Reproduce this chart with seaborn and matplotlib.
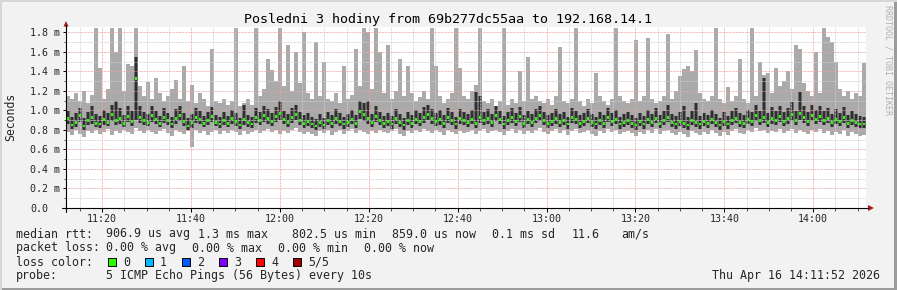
import numpy as np
import pandas as pd
import matplotlib
matplotlib.use("Agg")
import matplotlib.pyplot as plt
import seaborn as sns
from matplotlib.ticker import MultipleLocator, FuncFormatter
from matplotlib.patches import Rectangle, Polygon
from matplotlib.lines import Line2D

# ---------------- data (values in ms) ----------------
title = "Posledni 3 hodiny from 69b277dc55aa to 192.168.14.1"
start_minute = 11 * 60 + 11 + 52 / 60      # 11:11:52
span_minutes = 180
n_steps = 200

rtt_max = [
    1.15, 1.12, 1.18, 1.10, 1.20, 1.08, 1.16, 1.84, 1.43, 1.12, 1.22, 1.84, 1.60, 1.84, 1.20, 1.48, 1.45, 1.84, 1.25, 1.15,
    1.29, 1.12, 1.33, 1.18, 1.10, 1.15, 1.22, 1.31, 1.12, 1.46, 1.10, 1.26, 1.08, 1.18, 1.12, 1.05, 1.63, 1.10, 1.08, 1.12,
    1.06, 1.10, 1.84, 1.05, 1.08, 1.12, 1.06, 1.84, 1.15, 1.22, 1.53, 1.41, 1.30, 1.84, 1.25, 1.67, 1.20, 1.60, 1.28, 1.80,
    1.18, 1.12, 1.70, 1.15, 1.50, 1.12, 1.10, 1.18, 1.08, 1.46, 1.12, 1.16, 1.63, 1.25, 1.84, 1.80, 1.22, 1.84, 1.60, 1.18,
    1.67, 1.12, 1.20, 1.53, 1.15, 1.46, 1.18, 1.10, 1.14, 1.20, 1.12, 1.84, 1.46, 1.15, 1.08, 1.12, 1.18, 1.84, 1.43, 1.15,
    1.12, 1.20, 1.26, 1.84, 1.10, 1.08, 1.12, 1.05, 1.10, 1.84, 1.06, 1.12, 1.08, 1.40, 1.10, 1.55, 1.12, 1.15, 1.10, 1.08,
    1.12, 1.06, 1.15, 1.65, 1.10, 1.08, 1.12, 1.84, 1.10, 1.05, 1.12, 1.08, 1.38, 1.15, 1.10, 1.06, 1.12, 1.84, 1.15, 1.10,
    1.08, 1.12, 1.72, 1.10, 1.15, 1.74, 1.12, 1.08, 1.10, 1.15, 1.78, 1.12, 1.20, 1.35, 1.42, 1.46, 1.40, 1.62, 1.18, 1.12,
    1.10, 1.15, 1.84, 1.12, 1.08, 1.24, 1.10, 1.15, 1.53, 1.12, 1.08, 1.84, 1.15, 1.50, 1.36, 1.38, 1.18, 1.43, 1.25, 1.30,
    1.40, 1.22, 1.67, 1.63, 1.28, 1.20, 1.15, 1.60, 1.18, 1.84, 1.75, 1.70, 1.50, 1.22, 1.15, 1.20, 1.12, 1.18, 1.15, 1.49,
]

rtt_p4 = [
    0.99, 0.93, 0.97, 1.02, 0.92, 0.98, 1.05, 0.96, 0.94, 1.00, 0.97, 1.06, 1.10, 1.02, 0.95, 1.04, 0.99, 1.55, 1.05, 0.98,
    0.96, 1.04, 0.99, 0.94, 1.02, 0.97, 0.93, 1.01, 1.05, 0.97, 0.92, 0.96, 1.02, 0.99, 0.94, 0.98, 1.03, 0.95, 0.93, 0.98,
    0.94, 1.00, 0.97, 0.92, 1.06, 0.95, 0.93, 1.02, 0.98, 1.04, 1.01, 0.97, 1.03, 1.10, 0.99, 0.96, 1.02, 1.06, 0.98, 0.95,
    0.97, 0.93, 0.91, 0.96, 0.92, 0.98, 0.95, 1.01, 0.97, 0.93, 0.96, 1.00, 0.95, 1.10, 1.08, 1.10, 0.96, 1.05, 0.98, 0.94,
    0.97, 0.94, 1.01, 0.96, 0.92, 0.98, 0.95, 1.00, 0.97, 1.03, 1.06, 1.01, 0.97, 1.00, 0.95, 1.02, 0.98, 0.93, 1.01, 0.98,
    0.96, 1.00, 1.19, 1.15, 0.98, 1.01, 0.96, 1.04, 0.99, 0.94, 0.98, 1.02, 0.97, 1.03, 0.95, 0.99, 0.96, 1.01, 1.05, 0.98,
    0.95, 0.97, 1.01, 0.96, 0.98, 0.93, 1.02, 0.99, 0.95, 0.97, 1.01, 0.96, 0.93, 0.98, 0.95, 1.02, 0.97, 1.00, 0.93, 0.96,
    0.98, 0.95, 0.92, 0.97, 0.94, 1.00, 0.96, 1.02, 0.95, 0.99, 1.06, 0.96, 0.94, 0.98, 1.05, 0.93, 0.99, 1.08, 0.94, 0.97,
    0.95, 1.00, 0.96, 0.92, 0.98, 0.94, 0.99, 1.02, 0.97, 0.95, 1.00, 0.98, 1.06, 0.99, 1.33, 0.97, 1.03, 0.99, 1.05, 0.98,
    1.02, 1.09, 0.99, 1.19, 1.04, 0.98, 1.06, 1.00, 1.05, 0.99, 1.02, 0.96, 1.01, 0.97, 1.03, 0.95, 0.99, 0.96, 0.94, 0.93,
]

rtt_median = [
    0.92, 0.85, 0.88, 0.95, 0.84, 0.90, 0.93, 0.87, 0.86, 0.91, 0.88, 0.96, 0.90, 0.92, 0.87, 0.94, 0.89, 1.33, 0.93, 0.90,
    0.88, 0.95, 0.91, 0.87, 0.93, 0.90, 0.86, 0.92, 0.95, 0.89, 0.84, 0.88, 0.93, 0.91, 0.87, 0.90, 0.94, 0.88, 0.86, 0.90,
    0.87, 0.92, 0.89, 0.85, 0.91, 0.88, 0.86, 0.93, 0.90, 0.95, 0.92, 0.89, 0.94, 0.97, 0.91, 0.88, 0.93, 0.96, 0.90, 0.87,
    0.89, 0.86, 0.84, 0.88, 0.85, 0.90, 0.87, 0.92, 0.89, 0.86, 0.88, 0.91, 0.87, 0.99, 0.96, 0.92, 0.88, 0.94, 0.90, 0.87,
    0.89, 0.86, 0.92, 0.88, 0.85, 0.90, 0.87, 0.91, 0.89, 0.93, 0.96, 0.92, 0.89, 0.91, 0.87, 0.93, 0.90, 0.86, 0.92, 0.90,
    0.88, 0.91, 0.87, 0.93, 0.90, 0.92, 0.88, 0.95, 0.91, 0.86, 0.90, 0.93, 0.89, 0.94, 0.87, 0.91, 0.88, 0.92, 0.95, 0.90,
    0.87, 0.89, 0.92, 0.88, 0.90, 0.86, 0.93, 0.91, 0.87, 0.89, 0.92, 0.88, 0.86, 0.90, 0.87, 0.93, 0.89, 0.91, 0.86, 0.88,
    0.90, 0.87, 0.85, 0.89, 0.86, 0.91, 0.88, 0.92, 0.87, 0.90, 0.93, 0.88, 0.86, 0.89, 0.87, 0.85, 0.90, 0.88, 0.86, 0.89,
    0.87, 0.91, 0.88, 0.85, 0.89, 0.86, 0.90, 0.92, 0.88, 0.87, 0.91, 0.89, 0.95, 0.90, 0.93, 0.88, 0.92, 0.90, 0.94, 0.89,
    0.92, 0.96, 0.90, 0.97, 0.93, 0.89, 0.95, 0.91, 0.94, 0.90, 0.92, 0.88, 0.91, 0.89, 0.93, 0.87, 0.90, 0.88, 0.86, 0.86,
]

rtt_p2 = [
    0.86, 0.81, 0.83, 0.88, 0.80, 0.85, 0.86, 0.83, 0.82, 0.85, 0.84, 0.89, 0.85, 0.86, 0.83, 0.88, 0.84, 0.90, 0.87, 0.85,
    0.84, 0.88, 0.86, 0.83, 0.87, 0.85, 0.82, 0.86, 0.89, 0.84, 0.80, 0.82, 0.87, 0.86, 0.83, 0.85, 0.88, 0.84, 0.82, 0.85,
    0.83, 0.86, 0.84, 0.81, 0.85, 0.83, 0.82, 0.87, 0.85, 0.88, 0.86, 0.84, 0.88, 0.90, 0.86, 0.83, 0.87, 0.90, 0.85, 0.82,
    0.84, 0.82, 0.80, 0.83, 0.81, 0.85, 0.82, 0.86, 0.84, 0.81, 0.83, 0.86, 0.82, 0.91, 0.89, 0.86, 0.83, 0.88, 0.85, 0.82,
    0.84, 0.81, 0.86, 0.83, 0.80, 0.85, 0.82, 0.86, 0.84, 0.87, 0.90, 0.86, 0.84, 0.85, 0.82, 0.87, 0.85, 0.81, 0.86, 0.85,
    0.83, 0.86, 0.82, 0.87, 0.85, 0.86, 0.83, 0.89, 0.86, 0.81, 0.85, 0.87, 0.84, 0.88, 0.82, 0.86, 0.83, 0.87, 0.89, 0.85,
    0.82, 0.84, 0.86, 0.83, 0.85, 0.81, 0.87, 0.86, 0.82, 0.84, 0.87, 0.83, 0.81, 0.85, 0.82, 0.88, 0.84, 0.86, 0.81, 0.83,
    0.85, 0.82, 0.80, 0.84, 0.81, 0.86, 0.83, 0.87, 0.82, 0.85, 0.88, 0.83, 0.81, 0.84, 0.82, 0.80, 0.85, 0.83, 0.81, 0.84,
    0.82, 0.86, 0.83, 0.80, 0.84, 0.81, 0.85, 0.87, 0.83, 0.82, 0.86, 0.84, 0.89, 0.85, 0.87, 0.83, 0.86, 0.85, 0.88, 0.84,
    0.86, 0.89, 0.85, 0.90, 0.87, 0.84, 0.89, 0.86, 0.88, 0.85, 0.87, 0.83, 0.86, 0.84, 0.87, 0.82, 0.85, 0.83, 0.82, 0.82,
]

rtt_min = [
    0.78, 0.75, 0.80, 0.76, 0.73, 0.79, 0.77, 0.80, 0.76, 0.78, 0.81, 0.75, 0.79, 0.77, 0.80, 0.78, 0.76, 0.82, 0.79, 0.77,
    0.80, 0.78, 0.76, 0.79, 0.81, 0.77, 0.74, 0.80, 0.78, 0.76, 0.79, 0.62, 0.80, 0.77, 0.79, 0.75, 0.78, 0.80, 0.76, 0.79,
    0.77, 0.80, 0.78, 0.75, 0.79, 0.76, 0.78, 0.80, 0.77, 0.79, 0.81, 0.78, 0.80, 0.76, 0.79, 0.77, 0.80, 0.82, 0.78, 0.76,
    0.78, 0.76, 0.74, 0.79, 0.77, 0.80, 0.75, 0.78, 0.80, 0.76, 0.79, 0.81, 0.77, 0.80, 0.78, 0.76, 0.79, 0.77, 0.80, 0.78,
    0.77, 0.79, 0.81, 0.76, 0.74, 0.79, 0.77, 0.80, 0.78, 0.81, 0.79, 0.77, 0.80, 0.78, 0.75, 0.80, 0.78, 0.76, 0.79, 0.77,
    0.78, 0.80, 0.76, 0.79, 0.81, 0.77, 0.79, 0.80, 0.78, 0.75, 0.79, 0.81, 0.77, 0.80, 0.76, 0.79, 0.77, 0.80, 0.82, 0.78,
    0.76, 0.79, 0.81, 0.77, 0.80, 0.75, 0.79, 0.81, 0.77, 0.78, 0.80, 0.76, 0.74, 0.79, 0.77, 0.81, 0.78, 0.80, 0.76, 0.78,
    0.79, 0.77, 0.74, 0.78, 0.76, 0.80, 0.77, 0.81, 0.76, 0.79, 0.80, 0.77, 0.75, 0.78, 0.76, 0.73, 0.79, 0.77, 0.75, 0.78,
    0.76, 0.80, 0.77, 0.74, 0.78, 0.75, 0.79, 0.81, 0.77, 0.76, 0.80, 0.78, 0.82, 0.79, 0.80, 0.77, 0.79, 0.78, 0.81, 0.77,
    0.79, 0.81, 0.77, 0.80, 0.78, 0.76, 0.80, 0.78, 0.81, 0.77, 0.79, 0.75, 0.78, 0.76, 0.80, 0.74, 0.78, 0.76, 0.74, 0.75,
]

legend_rows = [
    [("median rtt:", 16), ("906.9 us avg", 106), ("1.3 ms max", 198), ("802.5 us min", 292),
     ("859.0 us now", 392), ("0.1 ms sd", 492), ("11.6", 572), ("am/s", 621)],
    [("packet loss:", 16), ("0.00 % avg", 106), ("0.00 % max", 192), ("0.00 % min", 278), ("0.00 % now", 364)],
    [("loss color:", 16)],
    [("probe:", 16), ("5 ICMP Echo Pings (56 Bytes) every 10s", 106)],
]
loss_labels = ["0", "1", "2", "3", "4", "5/5"]
loss_colors = ["#26ff00", "#00b8ff", "#0059ff", "#7e00ff", "#ff0000", "#a10000"]
date_text = "Thu Apr 16 14:11:52 2026"

# ---------------- figure ----------------
sns.set_theme(style="white")
plt.rcParams["font.family"] = ["DejaVu Sans Mono", "DejaVu Sans"]

W, H = 897, 290
fig = plt.figure(figsize=(W / 100, H / 100), dpi=100, facecolor="#f2f2f2")

def fx(x):
    return x / W

def fy(y):
    return 1 - y / H

L, R, B, T = 66, 866, 208, 27
ax = fig.add_axes([fx(L), fy(B), (R - L) / W, (B - T) / H])
ax.set_facecolor("white")

step = span_minutes / n_steps
x_left = start_minute + step * np.arange(n_steps)
df = pd.DataFrame({
    "t": x_left + step / 2,
    "lo": rtt_min, "p2": rtt_p2, "med": rtt_median, "p4": rtt_p4, "hi": rtt_max,
})

ax.bar(x_left, df["hi"] - df["lo"], bottom=df["lo"], width=step, align="edge",
       color="#aaaaaa", linewidth=0, antialiased=False, zorder=1)
ax.bar(x_left, df["p4"] - df["p2"], bottom=df["p2"], width=step, align="edge",
       color="#6a6a6a", linewidth=0, antialiased=False, zorder=1.1)
ax.vlines(df["t"], df["p2"], df["p4"], colors="#1e1e1e", linewidth=1.1, zorder=1.2)
sns.scatterplot(data=df, x="t", y="med", marker="s", s=4.2, color="#26ff00",
                edgecolor="none", linewidth=0, ax=ax, zorder=5, legend=False)

ax.set_xlim(start_minute, start_minute + span_minutes)
ax.set_ylim(0, (B - T) / 97.6)

ax.xaxis.set_major_locator(MultipleLocator(20))
ax.xaxis.set_minor_locator(MultipleLocator(5))
ax.yaxis.set_major_locator(MultipleLocator(0.2))
ax.yaxis.set_minor_locator(MultipleLocator(0.1))
ax.xaxis.set_major_formatter(FuncFormatter(lambda v, p: f"{int(round(v)) // 60:02d}:{int(round(v)) % 60:02d}"))
ax.yaxis.set_major_formatter(FuncFormatter(lambda v, p: "0.0" if abs(v) < 1e-9 else f"{v:.1f} m"))

dot = (0, (0.72, 0.72))
ax.set_axisbelow(False)
ax.grid(which="minor", color="#cfcfcf", linestyle=dot, linewidth=0.72)
ax.grid(which="major", color="#eba3a3", linestyle=dot, linewidth=0.72)

for s in ax.spines.values():
    s.set_visible(False)

ax.tick_params(axis="x", which="major", direction="out", length=3, width=0.72,
               color="black", pad=1.0, labelsize=7.2, bottom=True)
ax.tick_params(axis="x", which="minor", direction="out", length=2, width=0.72,
               color="#555555", bottom=True)
ax.tick_params(axis="y", which="major", direction="out", length=2, width=0.72,
               color="black", pad=24.0, labelsize=7.2, left=True)
ax.tick_params(axis="y", which="minor", direction="out", length=1.5, width=0.72,
               color="#555555", left=True)
for lab in ax.get_yticklabels():
    lab.set_horizontalalignment("left")
ax.set_xlabel("")
ax.set_ylabel("")

# axis lines with arrows
fig.add_artist(Line2D([fx(62), fx(868)], [fy(208), fy(208)], color="black", lw=0.8))
fig.add_artist(Line2D([fx(66), fx(66)], [fy(212), fy(25)], color="black", lw=0.8))
arrow_c = "#a01c1c"
fig.add_artist(Polygon([[fx(63.5), fy(26.5)], [fx(68.5), fy(26.5)], [fx(66), fy(21)]],
                       closed=True, color=arrow_c, lw=0, transform=fig.transFigure))
fig.add_artist(Polygon([[fx(868), fy(205)], [fx(868), fy(211)], [fx(874), fy(208)]],
                       closed=True, color=arrow_c, lw=0, transform=fig.transFigure))

# frame shading
fig.add_artist(Rectangle((0, 0), 1, 2 / H, color="#9b9b9b", lw=0, transform=fig.transFigure))
fig.add_artist(Rectangle((1 - 3 / W, 0), 3 / W, 1, color="#9b9b9b", lw=0, transform=fig.transFigure))
fig.add_artist(Rectangle((0, 1 - 2 / H), 1, 2 / H, color="#d6d6d6", lw=0, transform=fig.transFigure))
fig.add_artist(Rectangle((0, 0), 2 / W, 1, color="#d6d6d6", lw=0, transform=fig.transFigure))

# texts
fig.text(fx(448), fy(19), title, ha="center", va="center", fontsize=9.6, color="black")
fig.text(fx(11), fy(117), "Seconds", ha="center", va="center", rotation=90, fontsize=8.3)
fig.text(fx(888), fy(5), "RRDTOOL / TOBI OETIKER", ha="center", va="top", rotation=270,
         fontsize=6, color="#b0b0b0")

row_y = [234, 248, 262, 276]
for row, yy in zip(legend_rows, row_y):
    for txt, xx in row:
        fig.text(fx(xx), fy(yy), txt, ha="left", va="center", fontsize=8.4)

box_x = [108, 145, 182, 219, 256, 293]
for lab, col, bx in zip(loss_labels, loss_colors, box_x):
    fig.add_artist(Rectangle((fx(bx), fy(265.5)), 7.5 / W, 7.5 / H, facecolor=col,
                             edgecolor="black", lw=0.7, transform=fig.transFigure))
    fig.text(fx(bx + 15), fy(262), lab, ha="left", va="center", fontsize=8.4)

fig.text(fx(880), fy(276), date_text, ha="right", va="center", fontsize=8.4)

fig.savefig("out.png", dpi=100, facecolor=fig.get_facecolor())
